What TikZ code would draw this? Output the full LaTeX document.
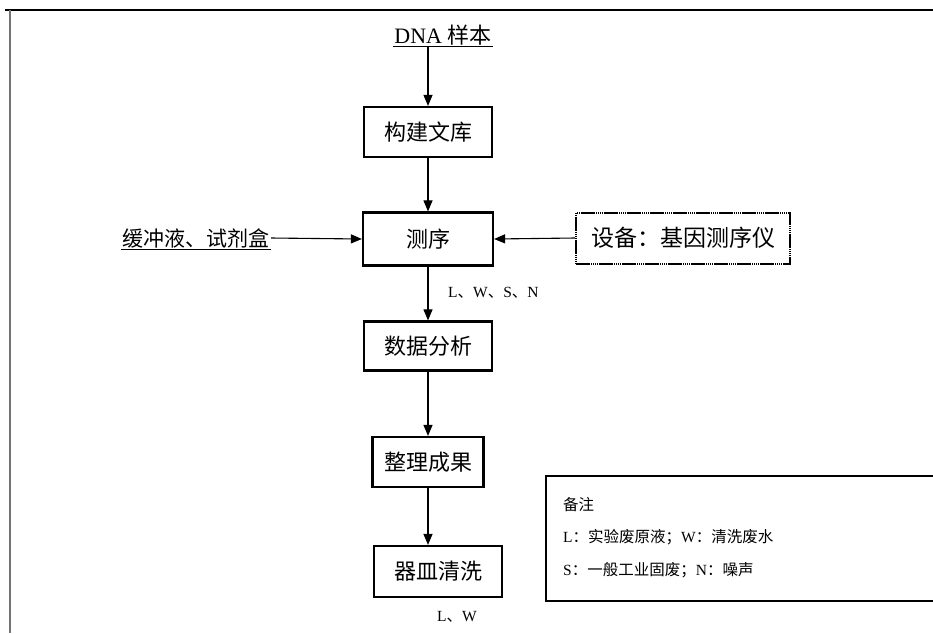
\documentclass[tikz,border=0pt]{standalone}
\usepackage{fontspec}
\setmainfont{Liberation Serif}
\newfontfamily\cjk{Noto Sans CJK SC}
\usetikzlibrary{arrows.meta}

\begin{document}
\begin{tikzpicture}[x=1pt, y=-1pt,
    stepbox/.style={draw, line width=2.2pt, minimum width=128pt,
      minimum height=50pt, font=\cjk\fontsize{22}{26}\selectfont},
    flow/.style={line width=1.1pt, -{Triangle[length=11pt, width=9pt]}},
    plain/.style={font=\fontsize{21}{25}\selectfont, inner sep=1.5pt},
    note/.style={font=\fontsize{15.5}{18}\selectfont, inner sep=0pt, anchor=west}]
    \def\boxw{128}

    \def\flowx{428}



    \useasboundingbox (0,0) rectangle (933,633);

    \draw[line width=2.5pt] (5,10) -- (933,10);

    \draw[line width=1.5pt, black!55] (10,10) -- (10,633);



    % inputs
    \node[plain, font=\fontsize{22}{26}\selectfont] (dna) at (443,35) {DNA {\cjk 样本}};

    \draw[line width=1.2pt] (dna.south west) -- (dna.south east);

    \node[plain] (buf) at (196,238) {\cjk 缓冲液、试剂盒};

    \draw[line width=1.2pt] (buf.south west) -- (buf.south east);



    % process steps
    \node[stepbox] (lib) at (\flowx,132) {构建文库};

    \node[stepbox, minimum width=130pt, minimum height=53pt] (seq) at (\flowx,239) {测序};

    \node[stepbox, minimum height=49pt] (ana) at (\flowx,346) {数据分析};

    \node[stepbox, minimum width=111pt] (res) at (\flowx,462) {整理成果};

    \node[stepbox, minimum height=51pt] (wash) at (438,571.5) {器皿清洗};

    \node[stepbox, minimum width=214pt, minimum height=51pt, line width=2pt,
      font=\cjk\fontsize{23}{27}\selectfont,
      dash pattern={on 14pt off 1pt on 1pt off 1pt on 1pt off 1pt on 1pt off 1pt on 1pt off 1pt}]
      (dev) at (683,238) {设备：基因测序仪};



    \draw[flow] (dna.south -| lib.north) -- (lib.north);

    \draw[flow] (lib) -- (seq);

    \draw[flow] (buf.east) -- (seq.west);

    \draw[flow] (dev.west) -- (seq.east);

    \draw[flow] (seq) -- (ana);

    \draw[flow] (ana) -- (res);

    \draw[flow] (res.south) -- (res.south |- wash.north);



    % emissions
    \node[note] (wsn) at (448,293) {L{\cjk 、}W{\cjk 、}S{\cjk 、}N};

    \node[note] (lw) at (437,617) {L{\cjk 、}W};



    % legend
    \draw[line width=1.8pt] (933,476) -- (546,476) -- (546,601) -- (933,601);

    \node[note] (ntitle) at (563,505) {\cjk 备注};

    \node[note] (nline1) at (563,537) {L{\cjk ：实验废原液；}W{\cjk ：清洗废水}};

    \node[note] (nline2) at (563,570) {S{\cjk ：一般工业固废；}N{\cjk ：噪声}};
  \end{tikzpicture}
\end{document}
